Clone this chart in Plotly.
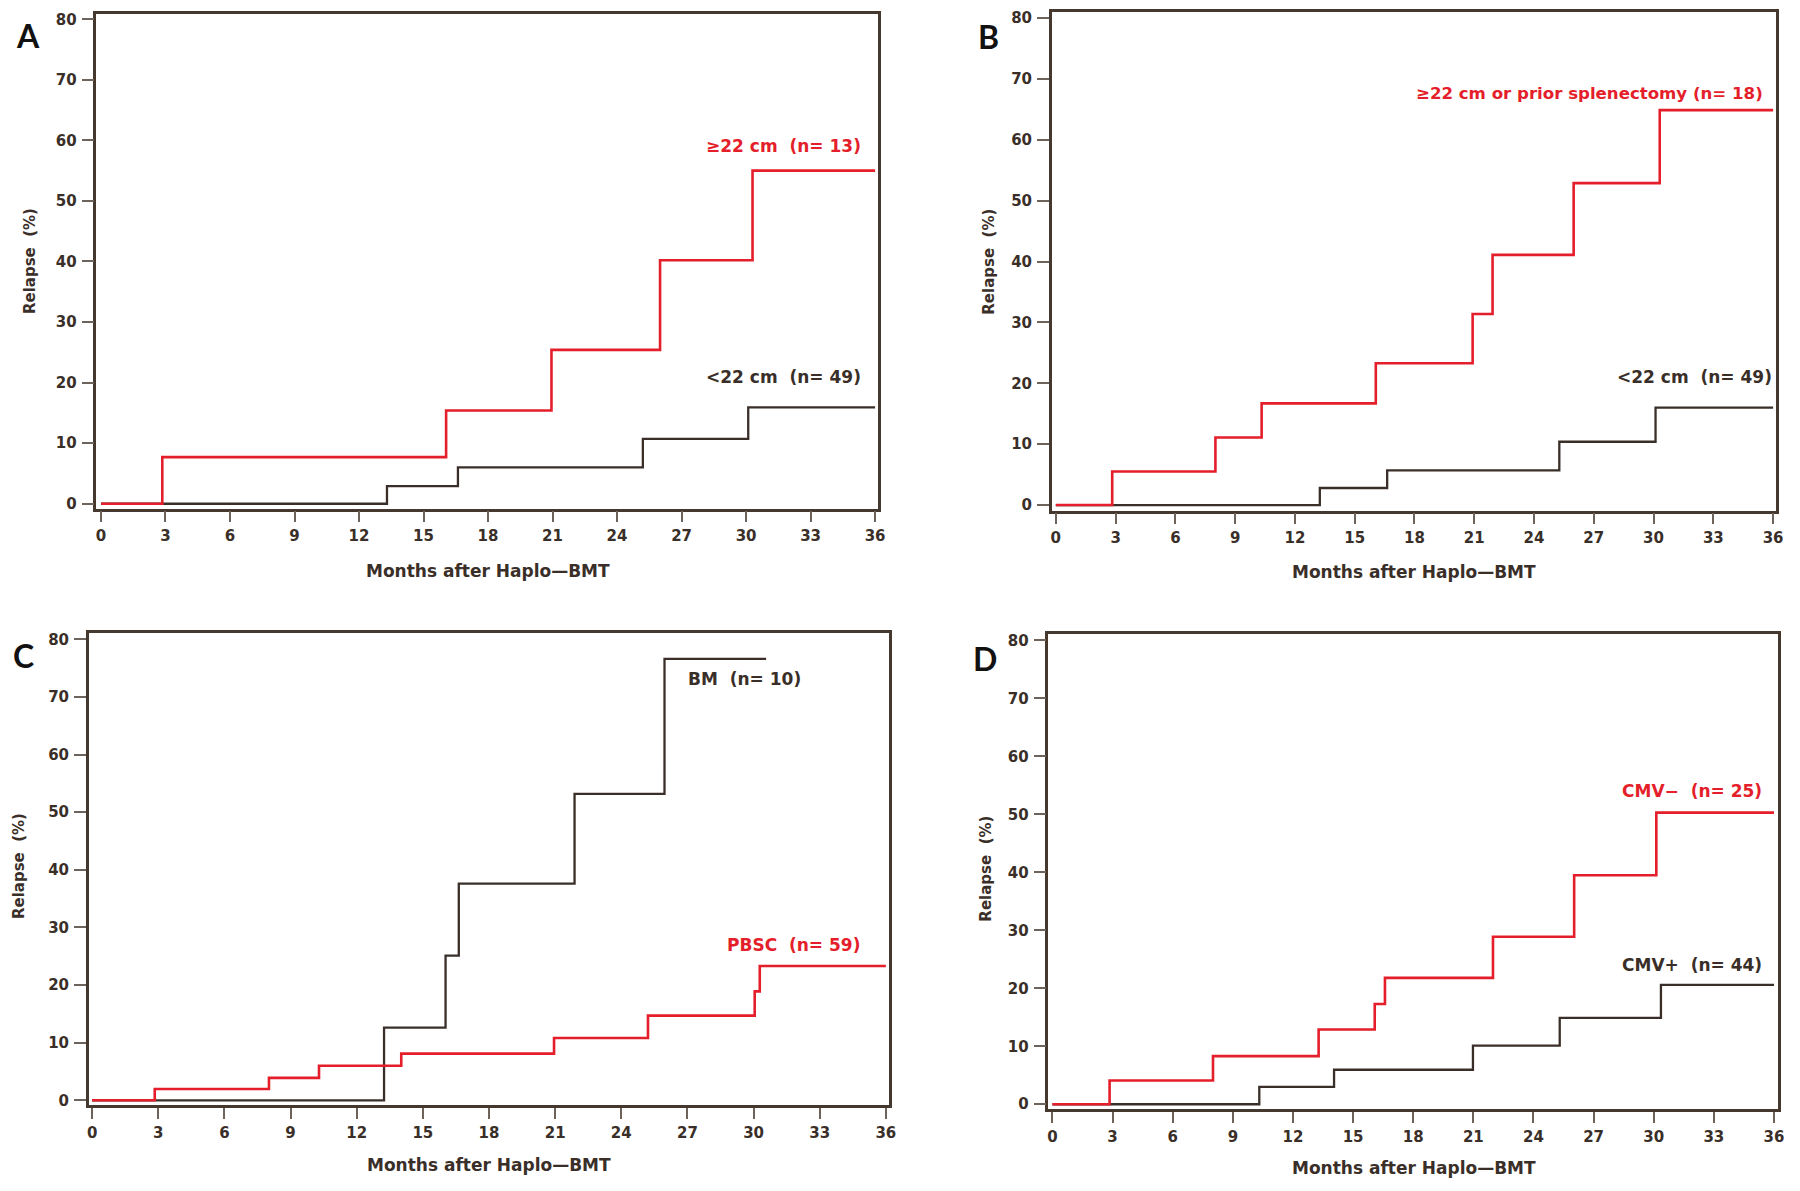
import plotly.graph_objects as go

W, H = 1800, 1191

# ---------------- data ----------------
month_ticks = list(range(0, 37, 3))
relapse_ticks = list(range(0, 81, 10))

# Panel A
a_red_x = [0, 2.85, 16.05, 20.95, 26.0, 30.3, 36]
a_red_y = [0, 7.7, 15.4, 25.4, 40.2, 55.0, 55.0]
a_blk_x = [0, 13.3, 16.6, 25.2, 30.1, 36]
a_blk_y = [0, 2.9, 6.0, 10.7, 15.9, 15.9]
a_red_label = "≥22 cm  (n= 13)"
a_blk_label = "<22 cm  (n= 49)"

# Panel B
b_red_x = [0, 2.83, 8.01, 10.33, 16.06, 20.92, 21.92, 25.99, 30.31, 36]
b_red_y = [0, 5.5, 11.1, 16.7, 23.3, 31.4, 41.1, 52.9, 64.9, 64.9]
b_blk_x = [0, 13.25, 16.63, 25.27, 30.1, 36]
b_blk_y = [0, 2.8, 5.7, 10.4, 16.0, 16.0]
b_red_label = "≥22 cm or prior splenectomy (n= 18)"
b_blk_label = "<22 cm  (n= 49)"

# Panel C
c_blk_x = [0, 13.24, 16.03, 16.63, 21.88, 25.96, 30.57]
c_blk_y = [0, 12.6, 25.1, 37.6, 53.2, 76.6, 76.6]
c_red_x = [0, 2.84, 8.02, 10.29, 14.02, 20.95, 25.21, 30.05, 30.28, 36]
c_red_y = [0, 1.95, 3.9, 6.0, 8.1, 10.8, 14.7, 18.9, 23.3, 23.3]
c_blk_label = "BM  (n= 10)"
c_red_label = "PBSC  (n= 59)"

# Panel D
d_red_x = [0, 2.85, 8.01, 13.28, 16.08, 16.59, 21.98, 26.03, 30.13, 36]
d_red_y = [0, 4.1, 8.3, 12.9, 17.3, 21.8, 28.9, 39.5, 50.3, 50.3]
d_blk_x = [0, 10.32, 14.05, 20.98, 25.31, 30.36, 36]
d_blk_y = [0, 3.0, 5.95, 10.1, 14.9, 20.6, 20.6]
d_red_label = "CMV\u2212  (n= 25)"
d_blk_label = "CMV+  (n= 44)"

x_title = "Months after Haplo\u2014BMT"
y_title = "Relapse  (%)"
panel_letters = ["A", "B", "C", "D"]

# ---------------- styling ----------------
RED = "#e41e2a"
DARK = "#3a2f28"
FRAME = "#45392f"
TICKC = "#6d635b"
FONT = "DejaVu Sans, Liberation Sans, Arial, sans-serif"
LETTER_FONT = "Lato, Open Sans, sans-serif"


def px_x(v):
    return v / W


def px_y(v):
    return 1 - v / H


# frame pixel boxes (left, top, right, bottom) and axis ranges per panel
# labels: (text, colour, x, y, xanchor, size)
panels = [
    dict(box=(95, 10.7, 881, 509), xr=[-0.21, 36.14], yr=[-0.8, 80.93],
         letter=(26, 33), ytitle=(28, 260), xtitle=(489, 572),
         red=(a_red_x, a_red_y), blk=(a_blk_x, a_blk_y),
         labels=[(a_red_label, RED, 28.05, 59.0, "left", 17), (a_blk_label, DARK, 28.05, 21.0, "left", 17)]),
    dict(box=(1055.7, 9.3, 1784, 511), xr=[-0.2, 36.15], yr=[-0.91, 80.98],
         letter=(992, 34), ytitle=(993, 260), xtitle=(1420, 573),
         red=(b_red_x, b_red_y), blk=(b_blk_x, b_blk_y),
         labels=[(b_red_label, RED, 35.6, 67.7, "right", 16.6), (b_blk_label, DARK, 28.08, 21.0, "left", 17)]),
    dict(box=(87.3, 634.3, 891.7, 1109.3), xr=[-0.15, 36.13], yr=[-0.79, 81.1],
         letter=(22, 657), ytitle=(17, 869), xtitle=(490, 1170),
         red=(c_red_x, c_red_y), blk=(c_blk_x, c_blk_y),
         labels=[(c_blk_label, DARK, 26.95, 73.2, "left", 17), (c_red_label, RED, 28.7, 27.0, "left", 17)]),
    dict(box=(1052.3, 635.7, 1785.7, 1113.3), xr=[-0.2, 36.19], yr=[-0.79, 81.03],
         letter=(988, 660), ytitle=(990, 872), xtitle=(1420, 1173),
         red=(d_red_x, d_red_y), blk=(d_blk_x, d_blk_y),
         labels=[(d_red_label, RED, 28.3, 54.0, "left", 17), (d_blk_label, DARK, 28.3, 24.1, "left", 17)]),
]

fig = go.Figure()
annotations = []
layout = {}

for i, p in enumerate(panels, start=1):
    xa = "x" if i == 1 else f"x{i}"
    ya = "y" if i == 1 else f"y{i}"
    xkey = "xaxis" if i == 1 else f"xaxis{i}"
    ykey = "yaxis" if i == 1 else f"yaxis{i}"
    l, t, r, b = p["box"]

    fig.add_trace(go.Scatter(x=p["blk"][0], y=p["blk"][1], mode="lines",
                             line=dict(color=DARK, width=2.3, shape="hv"),
                             xaxis=xa, yaxis=ya, showlegend=False, hoverinfo="skip"))
    fig.add_trace(go.Scatter(x=p["red"][0], y=p["red"][1], mode="lines",
                             line=dict(color=RED, width=2.6, shape="hv"),
                             xaxis=xa, yaxis=ya, showlegend=False, hoverinfo="skip"))

    common = dict(showgrid=False, zeroline=False, showline=True, mirror=True,
                  linecolor=FRAME, linewidth=2.6, ticks="outside", tickcolor=TICKC,
                  tickwidth=1.6, tickfont=dict(family=FONT, size=15, color=DARK, weight="bold"),
                  fixedrange=True)
    layout[xkey] = dict(common, domain=[px_x(l), px_x(r)], range=p["xr"],
                        tickmode="array", tickvals=month_ticks,
                        ticktext=[str(v) for v in month_ticks],
                        ticklen=11, ticklabelstandoff=1, anchor=ya)
    layout[ykey] = dict(common, domain=[px_y(b), px_y(t)], range=p["yr"],
                        tickmode="array", tickvals=relapse_ticks,
                        ticktext=[str(v) for v in relapse_ticks],
                        ticklen=12, ticklabelstandoff=2, anchor=xa)

    # panel letter
    annotations.append(dict(text=panel_letters[i - 1], x=px_x(p["letter"][0]), y=px_y(p["letter"][1]),
                            xref="paper", yref="paper", showarrow=False,
                            xanchor="center", yanchor="middle",
                            font=dict(family=LETTER_FONT, size=32, color="#111111", weight="bold")))
    # axis titles
    annotations.append(dict(text=x_title, x=px_x(p["xtitle"][0]), y=px_y(p["xtitle"][1]),
                            xref="paper", yref="paper", showarrow=False,
                            xanchor="center", yanchor="middle",
                            font=dict(family=FONT, size=17, color=DARK, weight="bold")))
    annotations.append(dict(text=y_title, x=px_x(p["ytitle"][0]), y=px_y(p["ytitle"][1]),
                            xref="paper", yref="paper", showarrow=False, textangle=-90,
                            xanchor="center", yanchor="middle",
                            font=dict(family=FONT, size=15, color=DARK, weight="bold")))
    # curve labels
    for txt, col, xl, yl, anc, fs in p["labels"]:
        annotations.append(dict(text=txt, x=xl, y=yl, xref=xa, yref=ya, showarrow=False,
                                xanchor=anc, yanchor="middle",
                                font=dict(family=FONT, size=fs, color=col, weight="bold")))

fig.update_layout(width=W, height=H, margin=dict(l=0, r=0, t=0, b=0),
                  paper_bgcolor="white", plot_bgcolor="white",
                  annotations=annotations, **layout)

fig.write_html("out.html", config={"displayModeBar": False},
               post_script="document.body.style.margin='0';document.body.style.padding='0';")
